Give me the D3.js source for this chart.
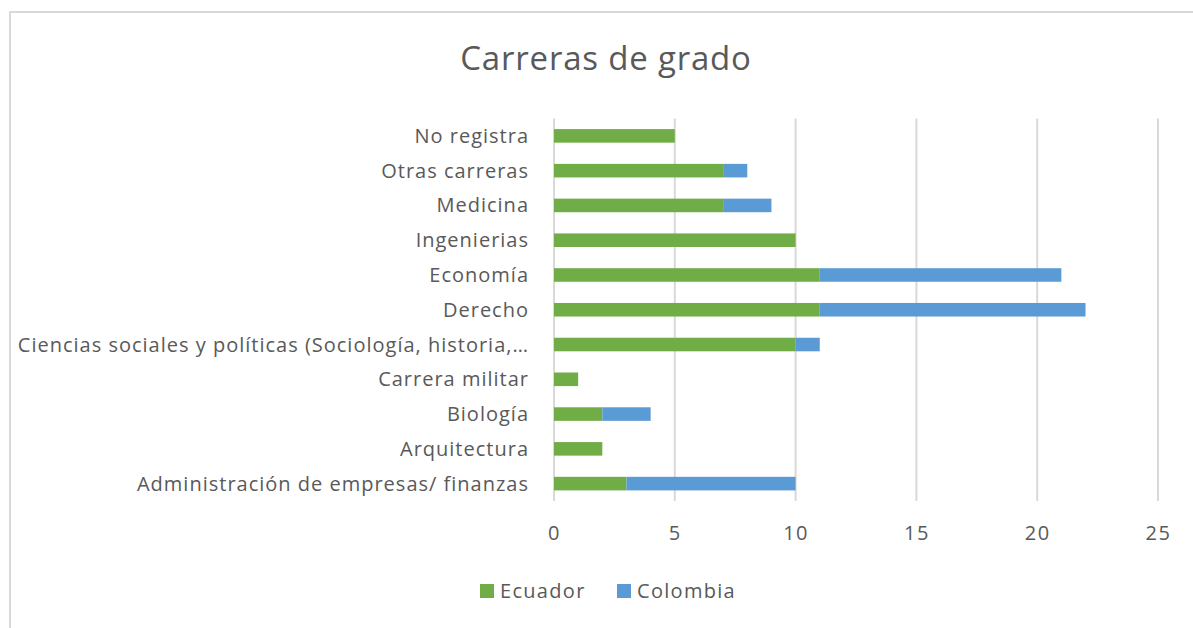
<!DOCTYPE html>
<html>
<head>
<meta charset="utf-8">
<script src="https://cdn.jsdelivr.net/npm/d3@7"></script>
<style>
	body { margin: 0; background: #fff; }
	svg text { font-family: "Open Sans", Lato, sans-serif; fill: #595959; }
</style>
</head>
<body>
<div id="chart"></div>
<script>
// data, top row first
var categories = [
	"No registra",
	"Otras carreras",
	"Medicina",
	"Ingenierias",
	"Economía",
	"Derecho",
	"Ciencias sociales y políticas (Sociología, historia,…",
	"Carrera militar",
	"Biología",
	"Arquitectura",
	"Administración de empresas/ finanzas"
];
var ecuador  = [5, 7, 7, 10, 11, 11, 10, 1, 2, 2, 3];
var colombia = [0, 1, 2, 0, 10, 11, 1, 0, 2, 0, 7];
var seriesNames = ["Ecuador", "Colombia"];
var seriesColors = ["#70AD47", "#5B9BD5"];
var xTicks = [0, 5, 10, 15, 20, 25];

(function() {
	var width = 1193, height = 628;
	var plotLeft = 554, plotRight = 1158, plotTop = 118.5, plotBottom = 501;

	var svg = d3.select("#chart").append("svg")
		.attr("width", width)
		.attr("height", height);

	// chart frame
	svg.append("rect")
		.attr("x", 10).attr("y", 12)
		.attr("width", 1200).attr("height", 640)
		.attr("fill", "#fff")
		.attr("stroke", "#d9d9d9")
		.attr("stroke-width", 2);

	svg.append("text")
		.attr("x", 606).attr("y", 70)
		.attr("text-anchor", "middle")
		.style("font-size", "33px")
		.style("letter-spacing", "0.8px")
		.text("Carreras de grado");

	var x = d3.scaleLinear().domain([0, 25]).range([plotLeft, plotRight]);
	var y = d3.scaleBand().domain(categories).range([plotTop, plotBottom]).paddingInner(0.61).paddingOuter(0.305);

	// gridlines
	svg.append("g").selectAll("line")
		.data(xTicks).enter()
		.append("line")
			.attr("x1", function(d) { return x(d); })
			.attr("x2", function(d) { return x(d); })
			.attr("y1", plotTop)
			.attr("y2", plotBottom)
			.attr("stroke", "#d9d9d9")
			.attr("stroke-width", 2);

	// x axis labels
	var xAxis = d3.axisBottom(x).tickValues(xTicks).tickSize(0).tickPadding(0);
	var gx = svg.append("g")
		.attr("transform", "translate(0," + (plotBottom + 39) + ")")
		.call(xAxis);
	gx.select(".domain").remove();
	gx.selectAll("text").attr("dy", 0).style("font-size", "20px").style("letter-spacing", "1.5px");

	// category labels
	var yAxis = d3.axisLeft(y).tickSize(0).tickPadding(0);
	var gy = svg.append("g")
		.attr("transform", "translate(529,0)")
		.call(yAxis);
	gy.select(".domain").remove();
	gy.selectAll("text").attr("dy", "0.35em").style("font-size", "20px").style("letter-spacing", "1px");

	// stacked bars
	var rows = categories.map(function(c, i) {
		return { cat: c, Ecuador: ecuador[i], Colombia: colombia[i] };
	});
	var stack = d3.stack().keys(seriesNames)(rows);

	svg.append("g").selectAll("g")
		.data(stack).enter()
		.append("g")
			.attr("fill", function(d, i) { return seriesColors[i]; })
		.selectAll("rect")
		.data(function(d) { return d; }).enter()
		.append("rect")
			.attr("x", function(d) { return x(d[0]); })
			.attr("y", function(d) { return y(d.data.cat); })
			.attr("width", function(d) { return x(d[1]) - x(d[0]); })
			.attr("height", y.bandwidth());

	// legend
	var legendX = [480, 617];
	var legend = svg.append("g").selectAll("g")
		.data(seriesNames).enter()
		.append("g")
			.attr("transform", function(d, i) { return "translate(" + legendX[i] + ",584)"; });
	legend.append("rect")
		.attr("width", 14).attr("height", 14)
		.attr("fill", function(d, i) { return seriesColors[i]; });
	legend.append("text")
		.attr("x", 20).attr("y", 7)
		.attr("dy", "0.35em")
		.style("font-size", "20px")
		.style("letter-spacing", "1.3px")
		.text(function(d) { return d; });
})();
</script>
</body>
</html>
